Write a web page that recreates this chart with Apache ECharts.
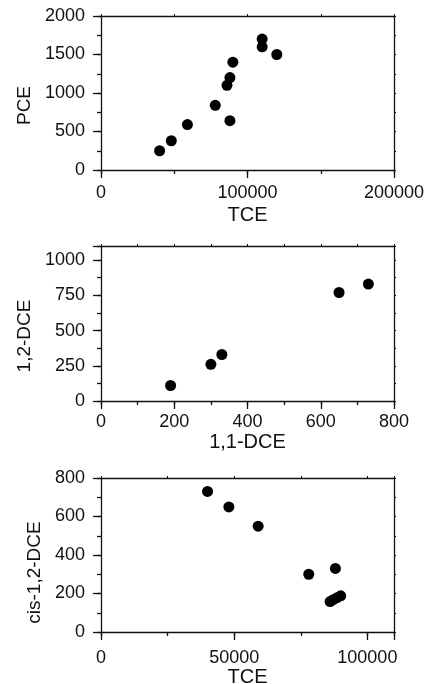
<!DOCTYPE html>
<html>
<head>
<meta charset="utf-8">
<script src="https://cdn.jsdelivr.net/npm/echarts@6/dist/echarts.min.js"></script>
<style>
  html, body { margin: 0; padding: 0; background: #fff; }
  #chart { width: 430px; height: 684px; }
</style>
</head>
<body>
<div id="chart"></div>
<script>
// panel 1: TCE vs PCE
var tceA = [40000, 48000, 59000, 78000, 88000, 86000, 88000, 90000, 110000, 110000, 120000];
var pce = [250, 380, 590, 840, 640, 1100, 1200, 1400, 1700, 1600, 1500];
// panel 2: 1,1-DCE vs 1,2-DCE
var dce11 = [190, 300, 330, 650, 730];
var dce12 = [110, 260, 330, 770, 830];
// panel 3: TCE vs cis-1,2-DCE
var tceB = [40000, 48000, 59000, 78000, 88000, 86000, 87200, 88600, 90000];
var cis = [730, 650, 550, 300, 330, 158, 168, 178, 188];

var INK = '#111';
var FONT = '"Liberation Sans", Arial, sans-serif';
var line = { color: INK, width: 1.3 };

function pairs(xs, ys) {
  var out = [];
  for (var i = 0; i < xs.length; i++) out.push([xs[i], ys[i]]);
  return out;
}

function plainLabel(step) {
  return function (v) { return v % step === 0 ? String(v) : ''; };
}

// one axis set: main (labels + long ticks), minor (short ticks), mirror (frame side)
function axisSet(dim, g, c) {
  var main = dim === 'x' ? 'bottom' : 'left';
  var far = dim === 'x' ? 'top' : 'right';
  var base = { type: 'value', gridIndex: g, min: c.min, max: c.max, splitLine: { show: false } };
  return [
    Object.assign({}, base, {
      interval: c.step, position: main,
      axisLine: { show: true, onZero: false, lineStyle: line },
      axisTick: { show: true, length: 8, lineStyle: line },
      axisLabel: { margin: c.margin, fontSize: 18, color: INK, fontFamily: FONT, formatter: plainLabel(c.step) },
      name: c.name, nameLocation: 'middle', nameGap: c.gap,
      nameTextStyle: { fontSize: c.nameSize, color: INK, fontFamily: FONT, padding: c.pad || 0 }
    }),
    Object.assign({}, base, {
      interval: c.step / 2, position: main,
      axisLine: { show: false, onZero: false },
      axisTick: { show: true, length: 4, lineStyle: line },
      axisLabel: { show: false }
    }),
    Object.assign({}, base, {
      interval: c.step / 2, position: far,
      axisLine: { show: true, onZero: false, lineStyle: line },
      axisTick: { show: true, length: 2, lineStyle: { color: INK, width: 1 } },
      axisLabel: { show: false }
    })
  ];
}

var grids = [
  { left: 101, top: 16, width: 293, height: 154, outerBoundsMode: 'none' },
  { left: 101, top: 246, width: 293, height: 155, outerBoundsMode: 'none' },
  { left: 101, top: 478, width: 293, height: 154, outerBoundsMode: 'none' }
];

var xAxes = [].concat(
  axisSet('x', 0, { min: 0, max: 200000, step: 100000, margin: 14, name: 'TCE', gap: 35, nameSize: 20 }),
  axisSet('x', 1, { min: 0, max: 800, step: 200, margin: 12, name: '1,1-DCE', gap: 31, nameSize: 20 }),
  axisSet('x', 2, { min: 0, max: 110000, step: 50000, margin: 17, name: 'TCE', gap: 31, nameSize: 20 })
);
var yAxes = [].concat(
  axisSet('y', 0, { min: 0, max: 2000, step: 500, margin: 16, name: 'PCE', gap: 66, nameSize: 19, pad: [0, 25, 0, 0] }),
  axisSet('y', 1, { min: 0, max: 1100, step: 250, margin: 16, name: '1,2-DCE', gap: 65, nameSize: 19, pad: [0, 25, 0, 0] }),
  axisSet('y', 2, { min: 0, max: 800, step: 200, margin: 16, name: 'cis-1,2-DCE', gap: 55, nameSize: 19, pad: [0, 35, 0, 0] })
);

function dots(g, data) {
  return {
    type: 'scatter', xAxisIndex: g * 3, yAxisIndex: g * 3,
    data: data, symbol: 'circle', symbolSize: 11,
    itemStyle: { color: '#000', opacity: 1 }, silent: true
  };
}

var chart = echarts.init(document.getElementById('chart'));
chart.setOption({
  animation: false,
  backgroundColor: '#fff',
  grid: grids,
  xAxis: xAxes,
  yAxis: yAxes,
  series: [
    dots(0, pairs(tceA, pce)),
    dots(1, pairs(dce11, dce12)),
    dots(2, pairs(tceB, cis))
  ]
});
</script>
</body>
</html>
